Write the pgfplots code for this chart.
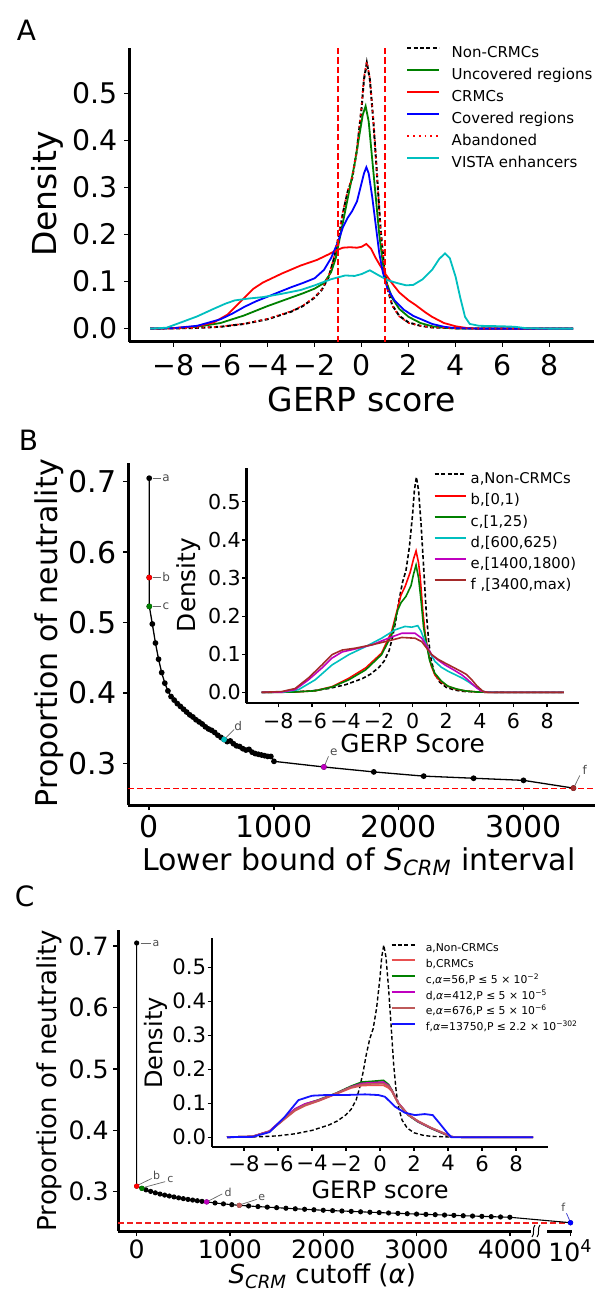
\documentclass[border=0pt]{standalone}
\usepackage{fontspec}
\setmainfont{DejaVu Sans}
\usepackage{pgfplots}
\usepackage{pgfplotstable}
\pgfplotsset{compat=1.18}

\definecolor{mgreen}{RGB}{0,128,0}
\definecolor{mcyan}{RGB}{0,191,191}
\definecolor{mmag}{RGB}{191,0,191}
\definecolor{mbrown}{RGB}{165,42,42}
\definecolor{lred}{RGB}{232,80,80}
\definecolor{lbrown}{RGB}{190,90,90}
\definecolor{hred}{RGB}{240,30,30}
\definecolor{mblue}{RGB}{20,20,255}

\newcommand{\fs}[1]{\fontsize{#1}{#1}\selectfont}

% shared non-CRMC density
\pgfplotstableread[row sep=\\]{x y\\
-9 0\\ -8 0.0005\\ -7 0.0015\\ -6 0.004\\ -5 0.010\\ -4 0.020\\ -3 0.036\\ -2.5 0.048\\ -2 0.066\\ -1.7 0.082\\
-1.4 0.11\\ -1.2 0.145\\ -1.0 0.19\\ -0.8 0.245\\ -0.6 0.29\\ -0.4 0.32\\ -0.2 0.38\\ 0 0.47\\ 0.1 0.53\\ 0.22 0.565\\
0.35 0.53\\ 0.5 0.44\\ 0.65 0.33\\ 0.8 0.215\\ 0.95 0.135\\ 1.1 0.085\\ 1.3 0.05\\ 1.6 0.027\\ 2 0.013\\ 2.5 0.006\\
3 0.0025\\ 4 0.0007\\ 5 0.0002\\ 6 0\\ 9 0\\}\ncrm

\pgfplotstableread[row sep=\\]{x y\\
-9 0\\ -8 0.0005\\ -7 0.0016\\ -6 0.0042\\ -5 0.0105\\ -4 0.021\\ -3 0.037\\ -2.5 0.049\\ -2 0.067\\ -1.7 0.083\\
-1.4 0.112\\ -1.2 0.147\\ -1.0 0.193\\ -0.8 0.248\\ -0.6 0.292\\ -0.4 0.322\\ -0.2 0.383\\ 0 0.474\\ 0.1 0.535\\ 0.22 0.568\\
0.35 0.532\\ 0.5 0.442\\ 0.65 0.33\\ 0.8 0.214\\ 0.95 0.133\\ 1.1 0.084\\ 1.3 0.049\\ 1.6 0.026\\ 2 0.012\\ 2.5 0.006\\
3 0.0024\\ 4 0.0007\\ 5 0.0002\\ 6 0\\ 9 0\\}\aband

\pgfplotstableread[row sep=\\]{x y\\
-9 0\\ -8 0.001\\ -7 0.004\\ -6 0.012\\ -5 0.028\\ -4.5 0.038\\ -4 0.048\\ -3.5 0.057\\ -3 0.066\\ -2.5 0.075\\
-2 0.085\\ -1.6 0.097\\ -1.3 0.12\\ -1.1 0.15\\ -0.9 0.2\\ -0.7 0.25\\ -0.5 0.3\\ -0.3 0.35\\ -0.1 0.41\\ 0.05 0.455\\
0.17 0.473\\ 0.3 0.44\\ 0.45 0.36\\ 0.6 0.28\\ 0.75 0.2\\ 0.9 0.14\\ 1.05 0.1\\ 1.3 0.065\\ 1.6 0.042\\ 2 0.025\\
2.5 0.012\\ 3 0.005\\ 3.5 0.002\\ 4 0.0005\\ 5 0\\ 9 0\\}\uncov

\pgfplotstableread[row sep=\\]{x y\\
-9 0\\ -8 0.001\\ -7 0.005\\ -6.3 0.013\\ -5.7 0.03\\ -5.1 0.06\\ -4.6 0.085\\ -4.2 0.098\\ -3.4 0.117\\ -2.6 0.134\\
-1.9 0.146\\ -1.4 0.158\\ -1.1 0.166\\ -0.8 0.172\\ -0.5 0.173\\ -0.2 0.172\\ 0 0.174\\ 0.2 0.18\\ 0.4 0.17\\ 0.6 0.15\\
0.8 0.133\\ 1.0 0.117\\ 1.3 0.096\\ 1.6 0.077\\ 2.0 0.06\\ 2.3 0.05\\ 2.7 0.035\\ 3.0 0.025\\ 3.5 0.012\\ 4.0 0.005\\
4.5 0.001\\ 5 0\\ 9 0\\}\crmc

\pgfplotstableread[row sep=\\]{x y\\
-9 0\\ -8 0.001\\ -7 0.006\\ -6 0.02\\ -5.5 0.032\\ -5 0.046\\ -4.5 0.058\\ -4 0.068\\ -3.5 0.078\\ -3 0.088\\
-2.5 0.097\\ -2 0.107\\ -1.6 0.125\\ -1.3 0.15\\ -1.0 0.185\\ -0.8 0.215\\ -0.6 0.235\\ -0.4 0.25\\ -0.2 0.27\\ 0 0.31\\
0.1 0.33\\ 0.2 0.343\\ 0.3 0.33\\ 0.45 0.28\\ 0.6 0.22\\ 0.75 0.16\\ 0.9 0.12\\ 1.1 0.085\\ 1.4 0.06\\ 1.8 0.04\\
2.2 0.027\\ 3 0.01\\ 3.5 0.004\\ 4 0.001\\ 5 0\\ 9 0\\}\cov

\pgfplotstableread[row sep=\\]{x y\\
-9 0\\ -8.3 0.002\\ -7.7 0.013\\ -7 0.026\\ -6.3 0.042\\ -5.8 0.053\\ -5.4 0.060\\ -4.8 0.064\\ -4.2 0.067\\ -3.4 0.074\\
-2.6 0.082\\ -2.0 0.092\\ -1.3 0.105\\ -0.7 0.113\\ -0.3 0.112\\ 0.0 0.116\\ 0.35 0.124\\ 0.7 0.114\\ 1.1 0.103\\ 1.5 0.097\\
1.9 0.092\\ 2.2 0.093\\ 2.6 0.105\\ 3.0 0.125\\ 3.3 0.148\\ 3.55 0.16\\ 3.75 0.15\\ 4.0 0.11\\ 4.2 0.065\\ 4.4 0.025\\
4.6 0.01\\ 5.0 0.006\\ 6.0 0.005\\ 6.5 0.004\\ 7.0 0.001\\ 8 0\\ 9 0\\}\vista

% panel B inset
\pgfplotstableread[row sep=\\]{x y\\
-9 0\\ -8 0\\ -7 0.001\\ -5.8 0.004\\ -4.8 0.015\\ -3.8 0.037\\ -2.8 0.064\\ -1.85 0.103\\ -1.25 0.16\\ -0.9 0.22\\
-0.7 0.255\\ -0.45 0.278\\ -0.15 0.315\\ 0.05 0.35\\ 0.2 0.371\\ 0.35 0.34\\ 0.45 0.3\\ 0.6 0.215\\ 0.75 0.15\\ 0.93 0.105\\
1.1 0.07\\ 1.33 0.045\\ 1.7 0.027\\ 2.1 0.016\\ 2.6 0.008\\ 3.1 0.004\\ 3.8 0.001\\ 4.5 0\\ 9 0\\}\Bb
\pgfplotstableread[row sep=\\]{x y\\
-9 0\\ -7 0.001\\ -5.8 0.004\\ -4.8 0.014\\ -3.8 0.033\\ -2.8 0.059\\ -1.85 0.099\\ -1.25 0.151\\ -0.9 0.215\\ -0.7 0.235\\
-0.4 0.252\\ -0.1 0.28\\ 0.05 0.31\\ 0.2 0.334\\ 0.35 0.3\\ 0.5 0.24\\ 0.65 0.17\\ 0.83 0.125\\ 1.0 0.085\\ 1.3 0.051\\
1.7 0.03\\ 2.1 0.016\\ 2.6 0.009\\ 3.1 0.004\\ 3.8 0.001\\ 4.5 0\\ 9 0\\}\Bc
\pgfplotstableread[row sep=\\]{x y\\
-9 0\\ -7.8 0\\ -6.8 0.007\\ -5.8 0.033\\ -4.8 0.072\\ -3.8 0.099\\ -2.8 0.12\\ -1.85 0.142\\ -1.05 0.164\\ -0.46 0.173\\
-0.06 0.171\\ 0.3 0.175\\ 0.5 0.16\\ 0.73 0.133\\ 1.0 0.105\\ 1.33 0.081\\ 1.7 0.066\\ 2.12 0.055\\ 2.5 0.047\\ 2.92 0.038\\
3.3 0.028\\ 3.7 0.016\\ 4.0 0.007\\ 4.3 0.001\\ 5 0\\ 9 0\\}\Bd
\pgfplotstableread[row sep=\\]{x y\\
-9 0\\ -7.8 0.001\\ -7.0 0.007\\ -6.2 0.033\\ -5.4 0.064\\ -4.8 0.09\\ -4.2 0.106\\ -3.4 0.114\\ -2.4 0.125\\ -1.45 0.142\\
-0.65 0.155\\ 0.14 0.155\\ 0.54 0.142\\ 0.85 0.12\\ 1.13 0.099\\ 1.5 0.085\\ 1.92 0.072\\ 2.4 0.06\\ 2.92 0.046\\ 3.2 0.036\\
3.5 0.024\\ 3.8 0.012\\ 4.1 0.003\\ 4.5 0\\ 9 0\\}\Be
\pgfplotstableread[row sep=\\]{x y\\
-9 0\\ -7.8 0.002\\ -7 0.01\\ -6.2 0.038\\ -5.4 0.072\\ -4.8 0.099\\ -4.2 0.111\\ -3.4 0.116\\ -2.4 0.125\\ -1.45 0.135\\
-0.65 0.144\\ 0.14 0.142\\ 0.54 0.133\\ 0.85 0.115\\ 1.13 0.099\\ 1.5 0.087\\ 1.92 0.077\\ 2.4 0.066\\ 2.92 0.054\\ 3.2 0.047\\
3.5 0.034\\ 3.8 0.018\\ 4.2 0.002\\ 4.5 0\\ 9 0\\}\Bf

% panel C inset
\pgfplotstableread[row sep=\\]{x y\\
-9 0\\ -7.5 0.002\\ -6.5 0.017\\ -5.6 0.054\\ -5.0 0.078\\ -4.4 0.093\\ -3.6 0.107\\ -2.6 0.127\\ -1.7 0.145\\ -1.07 0.152\\
-0.5 0.153\\ 0.2 0.153\\ 0.5 0.145\\ 0.7 0.135\\ 1.07 0.1\\ 1.66 0.066\\ 2.24 0.047\\ 3.0 0.027\\ 3.8 0.01\\ 4.2 0.001\\
5 0\\ 9 0\\}\Cb
\pgfplotstableread[row sep=\\]{x y\\
-9 0\\ -7.5 0.002\\ -6.5 0.017\\ -5.6 0.057\\ -5.0 0.082\\ -4.4 0.097\\ -3.6 0.11\\ -2.6 0.129\\ -1.7 0.15\\ -1.07 0.162\\
-0.5 0.164\\ 0.2 0.167\\ 0.5 0.155\\ 0.7 0.138\\ 1.07 0.1\\ 1.66 0.065\\ 2.24 0.045\\ 3.0 0.026\\ 3.8 0.009\\ 4.2 0.001\\
5 0\\ 9 0\\}\Cc
\pgfplotstableread[row sep=\\]{x y\\
-9 0\\ -7.5 0.002\\ -6.5 0.018\\ -5.6 0.058\\ -5.0 0.083\\ -4.4 0.098\\ -3.6 0.109\\ -2.6 0.128\\ -1.7 0.148\\ -1.07 0.158\\
-0.5 0.16\\ 0.2 0.162\\ 0.5 0.152\\ 0.7 0.137\\ 1.07 0.101\\ 1.66 0.066\\ 2.24 0.046\\ 3.0 0.027\\ 3.8 0.01\\ 4.2 0.001\\
5 0\\ 9 0\\}\Cd
\pgfplotstableread[row sep=\\]{x y\\
-9 0\\ -7.5 0.002\\ -6.5 0.017\\ -5.6 0.055\\ -5.0 0.08\\ -4.4 0.095\\ -3.6 0.108\\ -2.6 0.128\\ -1.7 0.147\\ -1.07 0.155\\
-0.5 0.157\\ 0.2 0.158\\ 0.5 0.15\\ 0.7 0.136\\ 1.07 0.1\\ 1.66 0.066\\ 2.24 0.047\\ 3.0 0.028\\ 3.8 0.011\\ 4.2 0.001\\
5 0\\ 9 0\\}\Ce
\pgfplotstableread[row sep=\\]{x y\\
-9 0\\ -7.5 0.001\\ -6.5 0.015\\ -5.6 0.06\\ -4.8 0.109\\ -4.0 0.122\\ -3.2 0.124\\ -2.05 0.124\\ -0.88 0.126\\ -0.1 0.124\\
0.29 0.119\\ 0.88 0.09\\ 1.46 0.072\\ 2.05 0.065\\ 2.63 0.068\\ 3.1 0.065\\ 3.5 0.041\\ 4.0 0.01\\ 4.2 0\\ 9 0\\}\Cf

% panel B main curve
\pgfplotstableread[row sep=\\]{x y\\
0 0.705\\ 0 0.564\\ 1 0.523\\ 25 0.498\\ 50 0.471\\ 75 0.448\\ 100 0.429\\ 125 0.414\\ 150 0.403\\ 175 0.395\\
200 0.390\\ 225 0.385\\ 250 0.381\\ 275 0.377\\ 300 0.373\\ 325 0.369\\ 350 0.366\\ 375 0.362\\ 400 0.359\\ 425 0.356\\
450 0.352\\ 475 0.349\\ 500 0.347\\ 525 0.344\\ 550 0.340\\ 575 0.337\\ 600 0.334\\ 625 0.331\\ 650 0.332\\ 675 0.328\\
700 0.325\\ 725 0.324\\ 750 0.321\\ 775 0.319\\ 800 0.320\\ 825 0.316\\ 850 0.314\\ 875 0.313\\ 900 0.312\\ 925 0.311\\
950 0.310\\ 975 0.310\\ 1000 0.303\\ 1400 0.295\\ 1800 0.288\\ 2200 0.282\\ 2600 0.279\\ 3000 0.276\\ 3400 0.265\\}\mainB

% panel C main curve
\pgfplotstableread[row sep=\\]{x y\\
0 0.705\\ 0 0.309\\ 56 0.3055\\ 100 0.3030\\ 150 0.3005\\ 200 0.2982\\ 250 0.2962\\ 300 0.2945\\ 350 0.2930\\ 400 0.2915\\
450 0.2900\\ 500 0.2887\\ 550 0.2875\\ 600 0.2864\\ 650 0.2853\\ 700 0.2843\\ 750 0.2834\\ 840 0.2817\\ 930 0.2802\\ 1020 0.2789\\
1100 0.2778\\ 1200 0.2768\\ 1300 0.2758\\ 1400 0.2749\\ 1500 0.2740\\ 1600 0.2731\\ 1700 0.2722\\ 1800 0.2714\\ 1900 0.2706\\ 2000 0.2698\\
2100 0.2692\\ 2200 0.2686\\ 2300 0.2680\\ 2400 0.2673\\ 2500 0.2666\\ 2600 0.2660\\ 2700 0.2654\\ 2800 0.2648\\ 2900 0.2642\\ 3000 0.2636\\
3100 0.2631\\ 3200 0.2626\\ 3300 0.2620\\ 3400 0.2615\\ 3500 0.2609\\ 3600 0.2604\\ 3700 0.2599\\ 3800 0.2594\\ 3900 0.2589\\ 4000 0.2584\\
4650 0.2495\\}\mainC

\tikzset{
  ndash/.style={black, dash pattern=on 2pt off 1.2pt},
  ann/.style={gray!80!black, line width=0.35pt},
  lbl/.style={font=\fs{6}, text=gray!60!black, inner sep=0.6pt},
}
\pgfplotsset{
  mpl/.style={scale only axis, anchor=south west,
    axis x line=bottom, axis y line=left,
    axis line style={-, line width=1.5pt},
    tick align=outside, major tick length=2.5pt,
    every tick/.style={black, line width=0.75pt},
    legend cell align=left},
  inset/.style={mpl, axis line style={-, line width=1.2pt}, major tick length=2pt,
    every tick/.style={black, line width=0.6pt}},
  dens/.style={no marks, line width=0.9pt},
}

\begin{document}
\begin{tikzpicture}

% ---------------- A ----------------
\begin{axis}[mpl, at={(64.5pt,-171pt)}, width=232.65pt, height=147pt,
  xmin=-9.9, xmax=9.9, ymin=-0.0284, ymax=0.5964,
  xtick={-8,-6,-4,-2,0,2,4,6,8}, xticklabels={−8,−6,−4,−2,0,2,4,6,8},
  ytick={0,0.1,0.2,0.3,0.4,0.5}, yticklabels={0.0,0.1,0.2,0.3,0.4,0.5},
  tick label style={font=\fs{14.2}},
  yticklabel style={inner xsep=3.2pt}, xticklabel style={inner ysep=3.6pt},
  xlabel={GERP score}, ylabel={Density}, label style={font=\fs{16.5}},
  xlabel style={at={(axis description cs:0.5,-0.197)}, anchor=center},
  ylabel style={at={(axis description cs:-0.175,0.503)}, anchor=center},
  legend style={draw=none, fill=none, at={(axis description cs:0.595,1.008)}, anchor=north west,
    font=\fs{7.5}, row sep=3.95pt, inner sep=0pt,
    nodes={inner sep=0pt, text height=5.6pt, text depth=1.5pt},
    /tikz/every odd column/.append style={column sep=5.75pt}},
  legend image code/.code={\draw[#1, line width=1pt] (0pt,2.6pt) -- (16pt,2.6pt);}]
\addplot[dens, ndash, line width=1pt] table {\ncrm};
\addlegendentry{Non-CRMCs}
\addplot[dens, mgreen] table {\uncov};
\addlegendentry{Uncovered regions}
\addplot[dens, red] table {\crmc};
\addlegendentry{CRMCs}
\addplot[dens, blue] table {\cov};
\addlegendentry{Covered regions}
\addplot[dens, red, dotted, line width=0.8pt] table {\aband};
\addlegendentry{Abandoned}
\addplot[dens, mcyan] table {\vista};
\addlegendentry{VISTA enhancers}
\addplot[red, line width=0.75pt, dash pattern=on 3.2pt off 1.6pt, forget plot] coordinates {(-1,-0.0284) (-1,0.5964)};
\addplot[red, line width=0.75pt, dash pattern=on 3.2pt off 1.6pt, forget plot] coordinates {(1,-0.0284) (1,0.5964)};
\end{axis}

% ---------------- B main ----------------
\begin{axis}[mpl, at={(64pt,-402.5pt)}, width=233.3pt, height=171.15pt,
  xmin=-170, xmax=3570, ymin=0.241, ymax=0.727, clip=false,
  xtick={0,1000,2000,3000}, xticklabels={0,1000,2000,3000},
  ytick={0.3,0.4,0.5,0.6,0.7}, yticklabels={0.3,0.4,0.5,0.6,0.7},
  tick label style={font=\fs{15}},
  yticklabel style={inner xsep=3pt}, xticklabel style={inner ysep=2.5pt},
  xlabel={Lower bound of \textit{S}\textsubscript{\textit{CRM}} interval}, ylabel={Proportion of neutrality},
  label style={font=\fs{15}},
  xlabel style={at={(axis description cs:0.495,-0.166)}, anchor=center},
  ylabel style={at={(axis description cs:-0.169,0.502)}, anchor=center}]
\addplot[color=red, line width=0.8pt, dash pattern=on 3pt off 1.5pt] coordinates {(-170,0.2645) (3570,0.2645)};
\addplot[black, line width=0.65pt, mark=*, mark size=1.1pt] table {\mainB};
\addplot[only marks, mark=*, mark size=1.2pt, red] coordinates {(0,0.564)};
\addplot[only marks, mark=*, mark size=1.2pt, mgreen] coordinates {(1,0.523)};
\addplot[only marks, mark=*, mark size=1.2pt, mcyan] coordinates {(600,0.334)};
\addplot[only marks, mark=*, mark size=1.2pt, mmag] coordinates {(1400,0.295)};
\addplot[only marks, mark=*, mark size=1.2pt, mbrown] coordinates {(3400,0.265)};
\draw[ann] ([xshift=1.65pt]axis cs:0,0.705) -- ([xshift=5.85pt]axis cs:0,0.705) node[right, lbl] {a};
\draw[ann] ([xshift=1.65pt]axis cs:0,0.564) -- ([xshift=5.85pt]axis cs:0,0.564) node[right, lbl] {b};
\draw[ann] ([xshift=1.65pt]axis cs:1,0.523) -- ([xshift=5.85pt]axis cs:1,0.523) node[right, lbl] {c};
\draw[ann] ([xshift=1pt,yshift=1pt]axis cs:600,0.334) -- ([xshift=5pt,yshift=5pt]axis cs:600,0.334);
\node[lbl] at ([xshift=7pt,yshift=6.8pt]axis cs:600,0.334) {d};
\draw[ann] ([xshift=0.5pt,yshift=1pt]axis cs:1400,0.295) -- ([xshift=2.3pt,yshift=5.3pt]axis cs:1400,0.295);
\node[lbl] at ([xshift=5pt,yshift=7.2pt]axis cs:1400,0.295) {e};
\draw[ann] ([xshift=0.6pt,yshift=1pt]axis cs:3400,0.265) -- ([xshift=3.2pt,yshift=6.3pt]axis cs:3400,0.265);
\node[lbl] at ([xshift=5.7pt,yshift=8.85pt]axis cs:3400,0.265) {f};
\end{axis}

% ---------------- B inset ----------------
\begin{axis}[inset, at={(123.2pt,-351.5pt)}, width=166.3pt, height=117.35pt,
  xmin=-9.9, xmax=9.9, ymin=-0.028, ymax=0.588,
  xtick={-8,-6,-4,-2,0,2,4,6,8}, xticklabels={−8,−6,−4,−2,0,2,4,6,8},
  ytick={0,0.1,0.2,0.3,0.4,0.5}, yticklabels={0.0,0.1,0.2,0.3,0.4,0.5},
  tick label style={font=\fs{10.3}},
  yticklabel style={inner xsep=0.6pt}, xticklabel style={inner ysep=2.8pt},
  xlabel={GERP Score}, ylabel={Density}, label style={font=\fs{12.4}},
  xlabel style={at={(axis description cs:0.5,-0.172)}, anchor=center},
  ylabel style={at={(axis description cs:-0.175,0.503)}, anchor=center},
  legend style={draw=none, fill=none, at={(axis description cs:0.562,0.983)}, anchor=north west,
    font=\fs{7.4}, row sep=3.6pt, inner sep=0pt,
    nodes={inner sep=0pt, text height=5.5pt, text depth=1.5pt},
    /tikz/every odd column/.append style={column sep=1.65pt}},
  legend image code/.code={\draw[#1, line width=1pt] (0pt,2.6pt) -- (15.85pt,2.6pt);}]
\addplot[no marks, ndash, line width=0.8pt] table {\ncrm};
\addlegendentry{a,Non-CRMCs}
\addplot[no marks, red, line width=0.8pt] table {\Bb};
\addlegendentry{b,[0,1)}
\addplot[no marks, mgreen, line width=0.8pt] table {\Bc};
\addlegendentry{c,[1,25)}
\addplot[no marks, mcyan, line width=0.8pt] table {\Bd};
\addlegendentry{d,[600,625)}
\addplot[no marks, mmag, line width=0.8pt] table {\Be};
\addlegendentry{e,[1400,1800)}
\addplot[no marks, mbrown, line width=0.8pt] table {\Bf};
\addlegendentry{f ,[3400,max)}
\end{axis}

% ---------------- C main ----------------
\begin{axis}[mpl, at={(59pt,-615.5pt)}, width=226.95pt, height=150.45pt,
  xmin=-200, xmax=4665, ymin=0.236, ymax=0.726, clip=false,
  xtick={0,1000,2000,3000,4000,4650}, xticklabels={0,1000,2000,3000,4000,10\textsuperscript{4}},
  ytick={0.3,0.4,0.5,0.6,0.7}, yticklabels={0.3,0.4,0.5,0.6,0.7},
  tick label style={font=\fs{12.6}},
  yticklabel style={inner xsep=2pt}, xticklabel style={inner ysep=1.7pt},
  xlabel={\textit{S}\textsubscript{\textit{CRM}} cutoff (\textit{α})}, ylabel={Proportion of neutrality},
  label style={font=\fs{13}},
  xlabel style={at={(axis description cs:0.45,-0.150)}, anchor=center},
  ylabel style={at={(axis description cs:-0.151,0.5)}, anchor=center}]
\addplot[draw=hred, line width=0.9pt, dash pattern=on 3pt off 1.5pt] coordinates {(-200,0.2485) (4665,0.2485)};
\addplot[black, line width=0.55pt, mark=*, mark size=1pt] table {\mainC};
\addplot[only marks, mark=*, mark size=1.1pt, red] coordinates {(0,0.309)};
\addplot[only marks, mark=*, mark size=1.1pt, mgreen] coordinates {(56,0.3055)};
\addplot[only marks, mark=*, mark size=1.1pt, mmag] coordinates {(750,0.2834)};
\addplot[only marks, mark=*, mark size=1.1pt, lbrown] coordinates {(1100,0.2778)};
\addplot[only marks, mark=*, mark size=1.1pt, blue] coordinates {(4650,0.2495)};
\draw[ann] ([xshift=2pt]axis cs:0,0.705) -- ([xshift=7.2pt]axis cs:0,0.705) node[right, lbl, font=\fs{5.5}] {a};
\draw[ann] ([xshift=0.8pt,yshift=0.6pt]axis cs:0,0.309) -- ([xshift=7.5pt,yshift=3.85pt]axis cs:0,0.309);
\node[lbl, font=\fs{5.5}] at ([xshift=10pt,yshift=5.5pt]axis cs:0,0.309) {b};
\draw[ann] ([xshift=0.8pt,yshift=0.4pt]axis cs:56,0.3055) -- ([xshift=11.65pt,yshift=3.35pt]axis cs:56,0.3055);
\node[lbl, font=\fs{5.5}] at ([xshift=14.2pt,yshift=4.2pt]axis cs:56,0.3055) {c};
\draw[ann] ([xshift=0.8pt,yshift=0.4pt]axis cs:750,0.2834) -- ([xshift=7.8pt,yshift=4pt]axis cs:750,0.2834);
\node[lbl, font=\fs{5.5}] at ([xshift=10.7pt,yshift=4.7pt]axis cs:750,0.2834) {d};
\draw[ann] ([xshift=0.8pt,yshift=0.4pt]axis cs:1100,0.2778) -- ([xshift=8.7pt,yshift=3pt]axis cs:1100,0.2778);
\node[lbl, font=\fs{5.5}] at ([xshift=11.2pt,yshift=4pt]axis cs:1100,0.2778) {e};
\draw[ann, blue!60!gray] ([xshift=-0.3pt,yshift=0.8pt]axis cs:4650,0.2495) -- ([xshift=-2pt,yshift=4.7pt]axis cs:4650,0.2495);
\node[lbl, font=\fs{5.5}] at ([xshift=-3.65pt,yshift=7.7pt]axis cs:4650,0.2495) {f};
\end{axis}

% axis break on C
\fill[white] (265.3pt,-617pt) rectangle (273.3pt,-614pt);
\draw[black, line width=0.5pt] (266pt,-618.5pt) .. controls (267.5pt,-617pt) and (266pt,-614pt) .. (267.5pt,-612.5pt);
\draw[black, line width=0.5pt] (268.5pt,-618.5pt) .. controls (270pt,-617pt) and (268.5pt,-614pt) .. (270pt,-612.5pt);

% ---------------- C inset ----------------
\begin{axis}[inset, at={(105.85pt,-573.35pt)}, width=168.3pt, height=104.2pt,
  xmin=-9.9, xmax=9.9, ymin=-0.028, ymax=0.585,
  xtick={-8,-6,-4,-2,0,2,4,6,8}, xticklabels={−8,−6,−4,−2,0,2,4,6,8},
  ytick={0,0.1,0.2,0.3,0.4,0.5}, yticklabels={0.0,0.1,0.2,0.3,0.4,0.5},
  tick label style={font=\fs{10.6}},
  yticklabel style={inner xsep=0.6pt}, xticklabel style={inner ysep=2.2pt},
  xlabel={GERP score}, ylabel={Density}, label style={font=\fs{12}},
  xlabel style={at={(axis description cs:0.5,-0.208)}, anchor=center},
  ylabel style={at={(axis description cs:-0.167,0.498)}, anchor=center},
  legend style={draw=none, fill=none, at={(axis description cs:0.53,0.981)}, anchor=north west,
    font=\fs{5.4}, row sep=2.2pt, inner sep=0pt,
    nodes={inner sep=0pt, text height=4.5pt, text depth=1.2pt},
    /tikz/every odd column/.append style={column sep=5pt}},
  legend image code/.code={\draw[#1, line width=1pt] (0pt,1.9pt) -- (11.65pt,1.9pt);}]
\addplot[no marks, ndash, line width=0.7pt] table {\ncrm};
\addlegendentry{a,Non-CRMCs}
\addplot[no marks, lred, line width=0.9pt] table {\Cb};
\addlegendentry{b,CRMCs}
\addplot[no marks, mgreen, line width=0.9pt] table {\Cc};
\addlegendentry{c,\textit{α}=56,P ≤ 5 × 10\textsuperscript{−2}}
\addplot[no marks, mmag, line width=0.9pt] table {\Cd};
\addlegendentry{d,\textit{α}=412,P ≤ 5 × 10\textsuperscript{−5}}
\addplot[no marks, lbrown, line width=0.9pt] table {\Ce};
\addlegendentry{e,\textit{α}=676,P ≤ 5 × 10\textsuperscript{−6}}
\addplot[no marks, mblue, line width=0.9pt] table {\Cf};
\addlegendentry{f,\textit{α}=13750,P ≤ 2.2 × 10\textsuperscript{−302}}
\end{axis}

% panel letters
\node[font=\fs{14}] at (13.25pt,-15pt) {A};
\node[font=\fs{14}] at (14.25pt,-220pt) {B};
\node[font=\fs{14}] at (12.35pt,-448.35pt) {C};

\pgfresetboundingbox
\path[use as bounding box] (0,0) rectangle (297pt,-646.5pt);
\end{tikzpicture}
\end{document}
